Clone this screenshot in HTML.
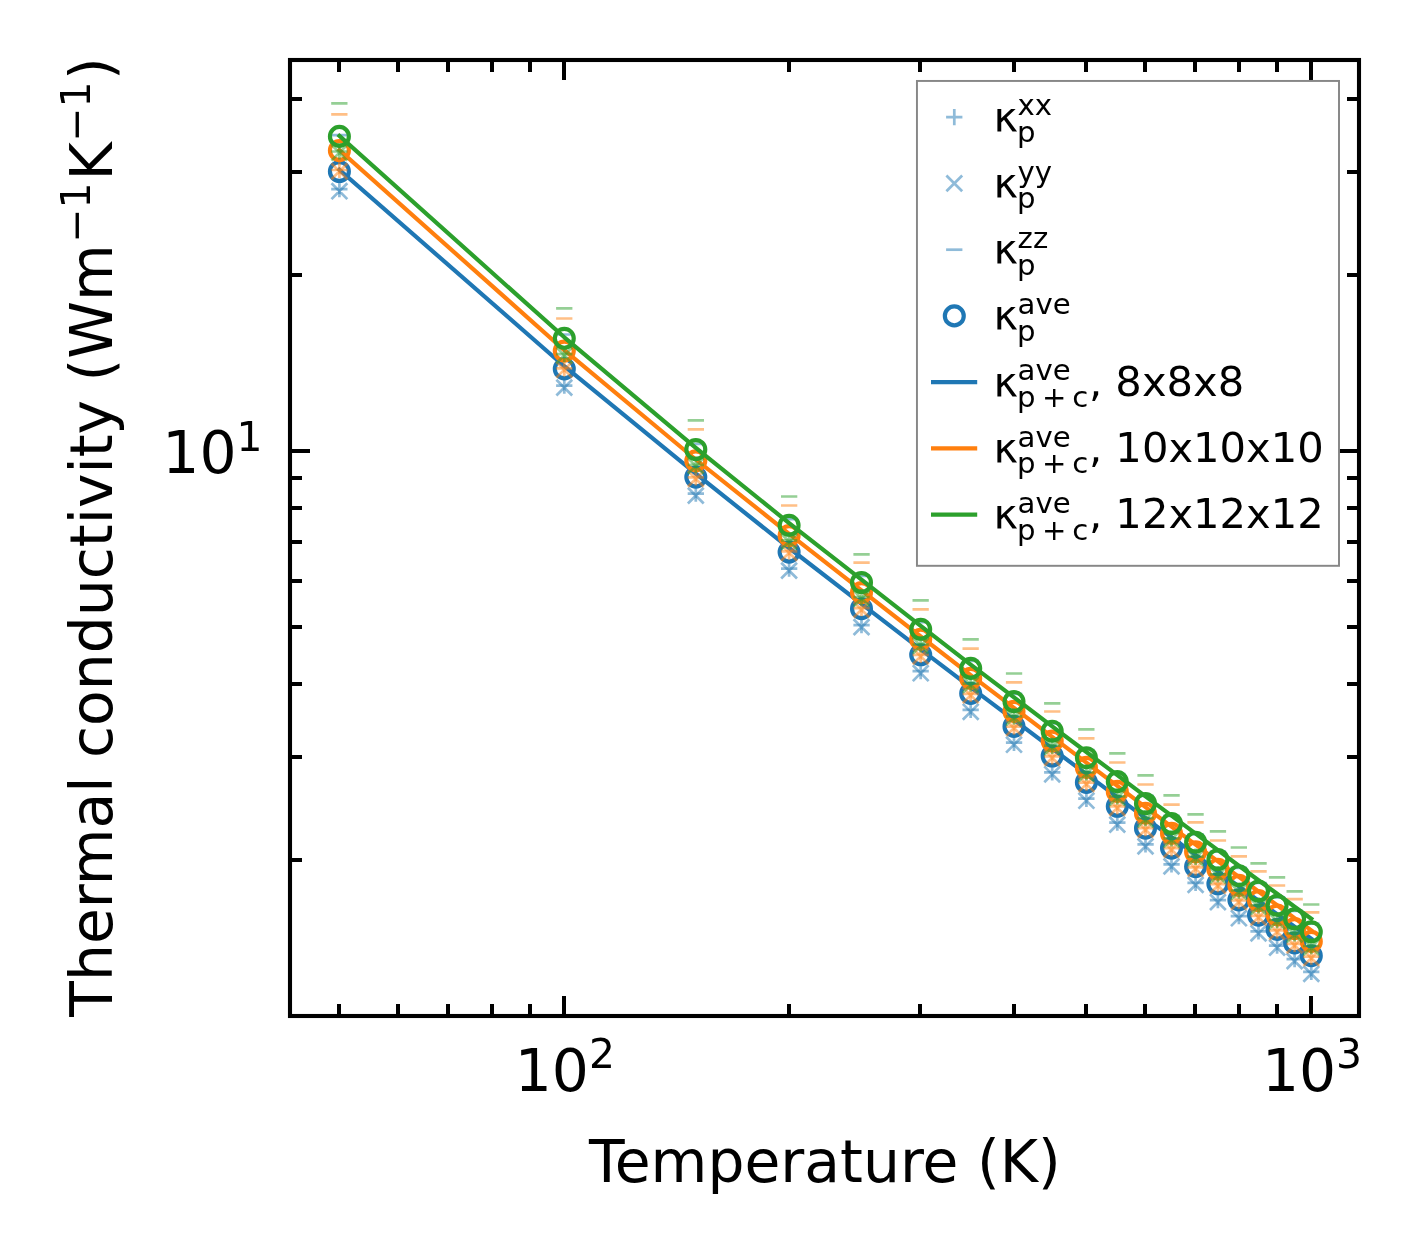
<!DOCTYPE html>
<html lang="en"><head><meta charset="utf-8"><title>Thermal conductivity vs temperature</title>
<style>html,body{margin:0;padding:0;background:#fff}svg{display:block}</style></head>
<body>
<svg width="1420" height="1254" viewBox="0 0 1420 1254" font-family="'DejaVu Sans', 'Liberation Sans', sans-serif" fill="#000">
<rect width="1420" height="1254" fill="#fff"/>
<clipPath id="ax"><rect x="290.0" y="60.0" width="1069.0" height="956.0"/></clipPath>
<g clip-path="url(#ax)" fill="none">
<path d="M331.2 189.2h16.3M339.4 181.0v16.3M556.1 385.6h16.3M564.3 377.5v16.3M687.7 493.6h16.3M695.8 485.5v16.3M781.0 568.6h16.3M789.1 560.4v16.3M853.4 625.1h16.3M861.5 617.0v16.3M912.5 671.2h16.3M920.7 663.0v16.3M962.5 709.8h16.3M970.7 701.6v16.3M1005.9 742.7h16.3M1014.0 734.6v16.3M1044.1 772.3h16.3M1052.2 764.1v16.3M1078.2 798.7h16.3M1086.4 790.6v16.3M1109.2 822.6h16.3M1117.3 814.5v16.3M1137.4 844.4h16.3M1145.5 836.3v16.3M1163.4 864.4h16.3M1171.5 856.3v16.3M1187.4 882.9h16.3M1195.6 874.7v16.3M1209.8 900.1h16.3M1217.9 891.9v16.3M1230.7 916.2h16.3M1238.9 908.0v16.3M1250.4 931.3h16.3M1258.5 923.2v16.3M1268.9 945.6h16.3M1277.1 937.4v16.3M1286.5 959.1h16.3M1294.6 950.9v16.3M1303.1 971.9h16.3M1311.3 963.8v16.3" stroke="#1f77b4" stroke-opacity="0.5" stroke-width="2.7"/>
<path d="M331.5 183.3l15.8 15.8M331.5 199.1l15.8 -15.8M556.4 379.7l15.8 15.8M556.4 395.5l15.8 -15.8M687.9 487.7l15.8 15.8M687.9 503.5l15.8 -15.8M781.2 562.7l15.8 15.8M781.2 578.5l15.8 -15.8M853.6 619.2l15.8 15.8M853.6 635.0l15.8 -15.8M912.8 665.3l15.8 15.8M912.8 681.1l15.8 -15.8M962.8 703.9l15.8 15.8M962.8 719.7l15.8 -15.8M1006.1 736.8l15.8 15.8M1006.1 752.6l15.8 -15.8M1044.3 766.4l15.8 15.8M1044.3 782.2l15.8 -15.8M1078.5 792.8l15.8 15.8M1078.5 808.6l15.8 -15.8M1109.4 816.7l15.8 15.8M1109.4 832.5l15.8 -15.8M1137.6 838.5l15.8 15.8M1137.6 854.3l15.8 -15.8M1163.6 858.5l15.8 15.8M1163.6 874.3l15.8 -15.8M1187.7 877.0l15.8 15.8M1187.7 892.8l15.8 -15.8M1210.0 894.2l15.8 15.8M1210.0 910.0l15.8 -15.8M1231.0 910.3l15.8 15.8M1231.0 926.1l15.8 -15.8M1250.6 925.4l15.8 15.8M1250.6 941.2l15.8 -15.8M1269.2 939.7l15.8 15.8M1269.2 955.5l15.8 -15.8M1286.7 953.2l15.8 15.8M1286.7 969.0l15.8 -15.8M1303.4 966.0l15.8 15.8M1303.4 981.8l15.8 -15.8" stroke="#1f77b4" stroke-opacity="0.5" stroke-width="2.7"/>
<path d="M331.2 135.2h16.3M556.1 334.5h16.3M687.7 443.9h16.3M781.0 519.1h16.3M853.4 575.9h16.3M912.5 622.1h16.3M962.5 660.8h16.3M1005.9 693.9h16.3M1044.1 723.5h16.3M1078.2 750.0h16.3M1109.2 774.0h16.3M1137.4 795.9h16.3M1163.4 815.9h16.3M1187.4 834.4h16.3M1209.8 851.7h16.3M1230.7 867.8h16.3M1250.4 883.0h16.3M1268.9 897.3h16.3M1286.5 910.9h16.3M1303.1 923.7h16.3" stroke="#1f77b4" stroke-opacity="0.5" stroke-width="2.7"/>
<g stroke="#1f77b4" stroke-width="4.17">
<circle cx="339.4" cy="171.5" r="9.45"/>
<circle cx="564.3" cy="368.9" r="9.45"/>
<circle cx="695.8" cy="477.1" r="9.45"/>
<circle cx="789.1" cy="552.1" r="9.45"/>
<circle cx="861.5" cy="608.7" r="9.45"/>
<circle cx="920.7" cy="654.8" r="9.45"/>
<circle cx="970.7" cy="693.4" r="9.45"/>
<circle cx="1014.0" cy="726.4" r="9.45"/>
<circle cx="1052.2" cy="756.0" r="9.45"/>
<circle cx="1086.4" cy="782.4" r="9.45"/>
<circle cx="1117.3" cy="806.3" r="9.45"/>
<circle cx="1145.5" cy="828.2" r="9.45"/>
<circle cx="1171.5" cy="848.1" r="9.45"/>
<circle cx="1195.6" cy="866.6" r="9.45"/>
<circle cx="1217.9" cy="883.8" r="9.45"/>
<circle cx="1238.9" cy="899.9" r="9.45"/>
<circle cx="1258.5" cy="915.1" r="9.45"/>
<circle cx="1277.1" cy="929.4" r="9.45"/>
<circle cx="1294.6" cy="942.9" r="9.45"/>
<circle cx="1311.3" cy="955.7" r="9.45"/>
</g>
<polyline points="339.4,169.8 564.3,366.2 695.8,473.7 789.1,548.0 861.5,603.9 920.7,649.3 970.7,687.3 1014.0,719.8 1052.2,748.6 1086.4,774.2 1117.3,797.2 1145.5,818.2 1171.5,837.3 1195.6,854.9 1217.9,871.2 1238.9,886.4 1258.5,900.7 1277.1,914.1 1294.6,926.8 1311.3,938.7" stroke="#1f77b4" stroke-width="4.17" stroke-linejoin="round" stroke-linecap="square"/>
<path d="M331.2 170.0h16.3M339.4 161.8v16.3M556.1 368.3h16.3M564.3 360.1v16.3M687.7 477.4h16.3M695.8 469.3v16.3M781.0 551.4h16.3M789.1 543.3v16.3M853.4 608.2h16.3M861.5 600.0v16.3M912.5 654.9h16.3M920.7 646.7v16.3M962.5 693.8h16.3M970.7 685.7v16.3M1005.9 726.6h16.3M1014.0 718.4v16.3M1044.1 756.4h16.3M1052.2 748.3v16.3M1078.2 782.6h16.3M1086.4 774.5v16.3M1109.2 806.4h16.3M1117.3 798.3v16.3M1137.4 828.2h16.3M1145.5 820.0v16.3M1163.4 848.2h16.3M1171.5 840.1v16.3M1187.4 867.3h16.3M1195.6 859.2v16.3M1209.8 884.2h16.3M1217.9 876.0v16.3M1230.7 900.5h16.3M1238.9 892.4v16.3M1250.4 915.9h16.3M1258.5 907.7v16.3M1268.9 930.4h16.3M1277.1 922.2v16.3M1286.5 943.9h16.3M1294.6 935.8v16.3M1303.1 956.6h16.3M1311.3 948.5v16.3" stroke="#ff7f0e" stroke-opacity="0.5" stroke-width="2.7"/>
<path d="M331.5 163.5l15.8 15.8M331.5 179.3l15.8 -15.8M556.4 361.8l15.8 15.8M556.4 377.6l15.8 -15.8M687.9 470.9l15.8 15.8M687.9 486.7l15.8 -15.8M781.2 544.9l15.8 15.8M781.2 560.7l15.8 -15.8M853.6 601.7l15.8 15.8M853.6 617.5l15.8 -15.8M912.8 648.4l15.8 15.8M912.8 664.2l15.8 -15.8M962.8 687.3l15.8 15.8M962.8 703.1l15.8 -15.8M1006.1 720.1l15.8 15.8M1006.1 735.9l15.8 -15.8M1044.3 749.9l15.8 15.8M1044.3 765.7l15.8 -15.8M1078.5 776.1l15.8 15.8M1078.5 791.9l15.8 -15.8M1109.4 799.9l15.8 15.8M1109.4 815.7l15.8 -15.8M1137.6 821.7l15.8 15.8M1137.6 837.5l15.8 -15.8M1163.6 841.7l15.8 15.8M1163.6 857.5l15.8 -15.8M1187.7 860.8l15.8 15.8M1187.7 876.6l15.8 -15.8M1210.0 877.7l15.8 15.8M1210.0 893.5l15.8 -15.8M1231.0 894.0l15.8 15.8M1231.0 909.8l15.8 -15.8M1250.6 909.4l15.8 15.8M1250.6 925.2l15.8 -15.8M1269.2 923.9l15.8 15.8M1269.2 939.7l15.8 -15.8M1286.7 937.4l15.8 15.8M1286.7 953.2l15.8 -15.8M1303.4 950.1l15.8 15.8M1303.4 965.9l15.8 -15.8" stroke="#ff7f0e" stroke-opacity="0.5" stroke-width="2.7"/>
<path d="M331.2 114.4h16.3M556.1 318.5h16.3M687.7 429.3h16.3M781.0 505.5h16.3M853.4 562.6h16.3M912.5 609.3h16.3M962.5 648.6h16.3M1005.9 682.4h16.3M1044.1 711.5h16.3M1078.2 738.4h16.3M1109.2 762.5h16.3M1137.4 784.5h16.3M1163.4 804.6h16.3M1187.4 822.4h16.3M1209.8 840.5h16.3M1230.7 856.4h16.3M1250.4 871.4h16.3M1268.9 885.5h16.3M1286.5 899.1h16.3M1303.1 912.3h16.3" stroke="#ff7f0e" stroke-opacity="0.5" stroke-width="2.7"/>
<g stroke="#ff7f0e" stroke-width="4.17">
<circle cx="339.4" cy="150.5" r="9.45"/>
<circle cx="564.3" cy="351.0" r="9.45"/>
<circle cx="695.8" cy="460.8" r="9.45"/>
<circle cx="789.1" cy="535.6" r="9.45"/>
<circle cx="861.5" cy="592.5" r="9.45"/>
<circle cx="920.7" cy="639.2" r="9.45"/>
<circle cx="970.7" cy="678.3" r="9.45"/>
<circle cx="1014.0" cy="711.4" r="9.45"/>
<circle cx="1052.2" cy="741.0" r="9.45"/>
<circle cx="1086.4" cy="767.4" r="9.45"/>
<circle cx="1117.3" cy="791.4" r="9.45"/>
<circle cx="1145.5" cy="813.2" r="9.45"/>
<circle cx="1171.5" cy="833.3" r="9.45"/>
<circle cx="1195.6" cy="851.9" r="9.45"/>
<circle cx="1217.9" cy="869.2" r="9.45"/>
<circle cx="1238.9" cy="885.4" r="9.45"/>
<circle cx="1258.5" cy="900.6" r="9.45"/>
<circle cx="1277.1" cy="915.0" r="9.45"/>
<circle cx="1294.6" cy="928.5" r="9.45"/>
<circle cx="1311.3" cy="941.4" r="9.45"/>
</g>
<polyline points="339.4,150.1 564.3,350.2 695.8,459.5 789.1,533.8 861.5,590.3 920.7,636.5 970.7,675.1 1014.0,707.8 1052.2,736.8 1086.4,762.6 1117.3,785.9 1145.5,807.1 1171.5,826.6 1195.6,844.6 1217.9,861.3 1238.9,876.9 1258.5,891.5 1277.1,905.2 1294.6,918.1 1311.3,930.4" stroke="#ff7f0e" stroke-width="4.17" stroke-linejoin="round" stroke-linecap="square"/>
<path d="M331.2 151.5h16.3M339.4 143.3v16.3M556.1 354.1h16.3M564.3 345.9v16.3M687.7 464.8h16.3M695.8 456.7v16.3M781.0 540.4h16.3M789.1 532.3v16.3M853.4 597.2h16.3M861.5 589.1v16.3M912.5 644.5h16.3M920.7 636.3v16.3M962.5 683.6h16.3M970.7 675.5v16.3M1005.9 716.3h16.3M1014.0 708.2v16.3M1044.1 745.7h16.3M1052.2 737.6v16.3M1078.2 772.5h16.3M1086.4 764.3v16.3M1109.2 796.4h16.3M1117.3 788.2v16.3M1137.4 818.2h16.3M1145.5 810.0v16.3M1163.4 838.3h16.3M1171.5 830.2v16.3M1187.4 856.7h16.3M1195.6 848.6v16.3M1209.8 874.3h16.3M1217.9 866.1v16.3M1230.7 890.5h16.3M1238.9 882.4v16.3M1250.4 905.4h16.3M1258.5 897.2v16.3M1268.9 920.0h16.3M1277.1 911.9v16.3M1286.5 933.3h16.3M1294.6 925.1v16.3M1303.1 946.0h16.3M1311.3 937.9v16.3" stroke="#2ca02c" stroke-opacity="0.5" stroke-width="2.7"/>
<path d="M331.5 144.8l15.8 15.8M331.5 160.6l15.8 -15.8M556.4 347.4l15.8 15.8M556.4 363.2l15.8 -15.8M687.9 458.1l15.8 15.8M687.9 473.9l15.8 -15.8M781.2 533.7l15.8 15.8M781.2 549.5l15.8 -15.8M853.6 590.5l15.8 15.8M853.6 606.3l15.8 -15.8M912.8 637.8l15.8 15.8M912.8 653.6l15.8 -15.8M962.8 676.9l15.8 15.8M962.8 692.7l15.8 -15.8M1006.1 709.6l15.8 15.8M1006.1 725.4l15.8 -15.8M1044.3 739.0l15.8 15.8M1044.3 754.8l15.8 -15.8M1078.5 765.8l15.8 15.8M1078.5 781.6l15.8 -15.8M1109.4 789.7l15.8 15.8M1109.4 805.5l15.8 -15.8M1137.6 811.5l15.8 15.8M1137.6 827.3l15.8 -15.8M1163.6 831.6l15.8 15.8M1163.6 847.4l15.8 -15.8M1187.7 850.0l15.8 15.8M1187.7 865.8l15.8 -15.8M1210.0 867.6l15.8 15.8M1210.0 883.4l15.8 -15.8M1231.0 883.8l15.8 15.8M1231.0 899.6l15.8 -15.8M1250.6 898.7l15.8 15.8M1250.6 914.5l15.8 -15.8M1269.2 913.3l15.8 15.8M1269.2 929.1l15.8 -15.8M1286.7 926.6l15.8 15.8M1286.7 942.4l15.8 -15.8M1303.4 939.3l15.8 15.8M1303.4 955.1l15.8 -15.8" stroke="#2ca02c" stroke-opacity="0.5" stroke-width="2.7"/>
<path d="M331.2 103.4h16.3M556.1 308.4h16.3M687.7 420.4h16.3M781.0 496.5h16.3M853.4 554.4h16.3M912.5 600.4h16.3M962.5 639.4h16.3M1005.9 673.5h16.3M1044.1 703.4h16.3M1078.2 729.4h16.3M1109.2 753.4h16.3M1137.4 775.4h16.3M1163.4 795.4h16.3M1187.4 814.4h16.3M1209.8 831.4h16.3M1230.7 847.5h16.3M1250.4 863.4h16.3M1268.9 877.3h16.3M1286.5 891.4h16.3M1303.1 904.5h16.3" stroke="#2ca02c" stroke-opacity="0.5" stroke-width="2.7"/>
<g stroke="#2ca02c" stroke-width="4.17">
<circle cx="339.4" cy="136.4" r="9.45"/>
<circle cx="564.3" cy="338.3" r="9.45"/>
<circle cx="695.8" cy="449.5" r="9.45"/>
<circle cx="789.1" cy="525.3" r="9.45"/>
<circle cx="861.5" cy="582.5" r="9.45"/>
<circle cx="920.7" cy="629.3" r="9.45"/>
<circle cx="970.7" cy="668.4" r="9.45"/>
<circle cx="1014.0" cy="701.6" r="9.45"/>
<circle cx="1052.2" cy="731.2" r="9.45"/>
<circle cx="1086.4" cy="757.7" r="9.45"/>
<circle cx="1117.3" cy="781.6" r="9.45"/>
<circle cx="1145.5" cy="803.5" r="9.45"/>
<circle cx="1171.5" cy="823.6" r="9.45"/>
<circle cx="1195.6" cy="842.2" r="9.45"/>
<circle cx="1217.9" cy="859.5" r="9.45"/>
<circle cx="1238.9" cy="875.7" r="9.45"/>
<circle cx="1258.5" cy="891.0" r="9.45"/>
<circle cx="1277.1" cy="905.3" r="9.45"/>
<circle cx="1294.6" cy="918.9" r="9.45"/>
<circle cx="1311.3" cy="931.8" r="9.45"/>
</g>
<polyline points="339.4,135.9 564.3,337.3 695.8,447.9 789.1,523.1 861.5,579.7 920.7,625.9 970.7,664.6 1014.0,697.3 1052.2,726.3 1086.4,752.0 1117.3,775.2 1145.5,796.3 1171.5,815.7 1195.6,833.6 1217.9,850.2 1238.9,865.7 1258.5,880.2 1277.1,893.8 1294.6,906.7 1311.3,918.8" stroke="#2ca02c" stroke-width="4.17" stroke-linejoin="round" stroke-linecap="square"/>
</g>
<path d="M564.0 1016.0v-20M564.0 60.0v20M1311.0 1016.0v-20M1311.0 60.0v20M290.0 451.0h20M1359.0 451.0h-20" stroke="#000" stroke-width="4.0" fill="none"/>
<path d="M339.0 1016.0v-12M339.0 60.0v12M398.0 1016.0v-12M398.0 60.0v12M448.0 1016.0v-12M448.0 60.0v12M492.0 1016.0v-12M492.0 60.0v12M530.0 1016.0v-12M530.0 60.0v12M789.0 1016.0v-12M789.0 60.0v12M920.0 1016.0v-12M920.0 60.0v12M1014.0 1016.0v-12M1014.0 60.0v12M1086.0 1016.0v-12M1086.0 60.0v12M1145.0 1016.0v-12M1145.0 60.0v12M1195.0 1016.0v-12M1195.0 60.0v12M1239.0 1016.0v-12M1239.0 60.0v12M1277.0 1016.0v-12M1277.0 60.0v12M290.0 860.0h12M1359.0 860.0h-12M290.0 757.0h12M1359.0 757.0h-12M290.0 684.0h12M1359.0 684.0h-12M290.0 627.0h12M1359.0 627.0h-12M290.0 581.0h12M1359.0 581.0h-12M290.0 542.0h12M1359.0 542.0h-12M290.0 508.0h12M1359.0 508.0h-12M290.0 478.0h12M1359.0 478.0h-12M290.0 275.0h12M1359.0 275.0h-12M290.0 172.0h12M1359.0 172.0h-12M290.0 99.0h12M1359.0 99.0h-12" stroke="#000" stroke-width="4.0" fill="none"/>
<rect x="290.0" y="60.0" width="1069.0" height="956.0" fill="none" stroke="#000" stroke-width="4.1"/>
<rect x="916.95" y="80.95" width="422.05" height="484.85" fill="#fff" stroke="#878787" stroke-width="1.95"/>
<g fill="none" stroke="#1f77b4" stroke-opacity="0.5" stroke-width="2.7">
<path d="M946.1 117.2h16.3M954.3 109.0v16.3"/>
<path d="M946.4 175.5l15.8 15.8M946.4 191.3l15.8 -15.8"/>
<path d="M946.1 249.7h16.3"/>
</g>
<circle cx="954.3" cy="315.9" r="9.45" fill="none" stroke="#1f77b4" stroke-width="4.17"/>
<path d="M931 382.2H977.2" stroke="#1f77b4" stroke-width="4.17" fill="none"/>
<path d="M931 448.4H977.2" stroke="#ff7f0e" stroke-width="4.17" fill="none"/>
<path d="M931 514.7H977.2" stroke="#2ca02c" stroke-width="4.17" fill="none"/>
<text x="993.6" y="130.5" font-size="41.67">κ<tspan x="1017.6" y="115.3" font-size="29.17">xx</tspan><tspan x="1016.9" y="142.2" font-size="29.17">p</tspan></text>
<text x="993.6" y="196.8" font-size="41.67">κ<tspan x="1017.6" y="181.6" font-size="29.17">yy</tspan><tspan x="1016.9" y="208.4" font-size="29.17">p</tspan></text>
<text x="993.6" y="263.0" font-size="41.67">κ<tspan x="1017.6" y="247.8" font-size="29.17">zz</tspan><tspan x="1016.9" y="274.7" font-size="29.17">p</tspan></text>
<text x="993.6" y="329.2" font-size="41.67">κ<tspan x="1017.6" y="314.1" font-size="29.17">ave</tspan><tspan x="1016.9" y="340.9" font-size="29.17">p</tspan></text>
<text x="993.6" y="395.5" font-size="41.67">κ<tspan x="1017.6" y="380.3" font-size="29.17">ave</tspan><tspan x="1016.9" y="407.2" font-size="29.17">p</tspan><tspan x="1042.1" y="407.2" font-size="29.17">+</tspan><tspan x="1072.2" y="407.2" font-size="29.17">c</tspan><tspan x="1088.9" y="395.5" font-size="41.67">, 8x8x8</tspan></text>
<text x="993.6" y="461.8" font-size="41.67">κ<tspan x="1017.6" y="446.6" font-size="29.17">ave</tspan><tspan x="1016.9" y="473.4" font-size="29.17">p</tspan><tspan x="1042.1" y="473.4" font-size="29.17">+</tspan><tspan x="1072.2" y="473.4" font-size="29.17">c</tspan><tspan x="1088.9" y="461.8" font-size="41.67">, 10x10x10</tspan></text>
<text x="993.6" y="528.0" font-size="41.67">κ<tspan x="1017.6" y="512.8" font-size="29.17">ave</tspan><tspan x="1016.9" y="539.7" font-size="29.17">p</tspan><tspan x="1042.1" y="539.7" font-size="29.17">+</tspan><tspan x="1072.2" y="539.7" font-size="29.17">c</tspan><tspan x="1088.9" y="528.0" font-size="41.67">, 12x12x12</tspan></text>
<text x="162.3" y="473" font-size="58.33">10<tspan x="236.5" y="451" font-size="40.83">1</tspan></text>
<text x="514.7" y="1091" font-size="58.33">10<tspan x="588.9" y="1068.2" font-size="40.83">2</tspan></text>
<text x="1261.9" y="1091" font-size="58.33">10<tspan x="1336.1" y="1068.2" font-size="40.83">3</tspan></text>
<text x="589" y="1182" font-size="58.33">Temperature (K)</text>
<text transform="translate(111.6,1016.7) rotate(-90)" font-size="58.33"><tspan x="0" y="0">Thermal conductivity (Wm</tspan><tspan x="773.9" y="-22" font-size="40.83">−1</tspan><tspan x="836.3" y="0">K</tspan><tspan x="875" y="-22" font-size="40.83">−1</tspan><tspan x="936.8" y="0">)</tspan></text>
</svg>
</body></html>
